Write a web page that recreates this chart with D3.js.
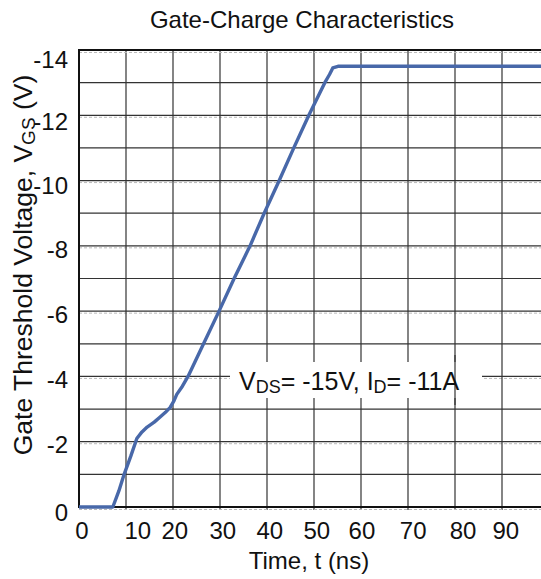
<!DOCTYPE html>
<html><head><meta charset="utf-8">
<script src="https://cdn.jsdelivr.net/npm/d3@7"></script>
<style>
html,body{margin:0;padding:0;background:#fff;}
svg{display:block;}
text{font-family:"Liberation Sans",Arial,sans-serif;fill:#111;}
</style></head>
<body><svg id="c" width="541" height="579"></svg>
<script>
// ---- data ----
const timeNs = [0, 2, 4, 6, 7.2, 8.5, 9.6, 11, 12.3, 13.4, 14.5, 16, 17.2, 18.4, 19.4, 20.2, 20.8, 22, 23.2, 26.5, 29.8, 33, 36.4, 39.4, 42.6, 45.7, 48.9, 50.6, 52.3, 53.3, 54.0, 55.1, 60, 70, 80, 90, 100];
const vgs    = [0, 0, 0, 0, 0, -0.5, -1, -1.55, -2.1, -2.3, -2.45, -2.6, -2.75, -2.9, -3.05, -3.25, -3.45, -3.7, -4, -5, -6, -7, -8, -9, -10, -11, -12, -12.5, -13, -13.25, -13.45, -13.5, -13.5, -13.5, -13.5, -13.5, -13.5];
const xTickLabels = ["0","10","20","30","40","50","60","70","80","90"];
const xTickLabelPos = [0.6, 12.5, 20.4, 30.6, 40.6, 50.6, 60.2, 71.1, 81.7, 90.8];
const yTickLabels = ["-14","-12","-10","-8","-6","-4","-2","0"];
const yTickLabelPos = [-13.7, -11.8, -9.85, -7.9, -5.9, -3.9, -1.9, 0.18];
const xGrid = [10,20,30,40,50,60,70,80,90];
const yGrid = [-1,-2,-3,-4,-5,-6,-7,-8,-9,-10,-11,-12,-13];

const svg = d3.select("#c");
const x = d3.scaleLinear().domain([0,100]).range([79,549]);
const y = d3.scaleLinear().domain([0,-14]).range([507,50]);
const blue = "#4868a9";
const FS = 24;

// horizontal grid
yGrid.forEach(v=>{
  svg.append("line").attr("x1",79).attr("x2",541).attr("y1",y(v)).attr("y2",y(v))
    .attr("stroke","#333").attr("stroke-width",1.2);
  if (v%2===0) svg.append("line").attr("x1",79).attr("x2",541).attr("y1",y(v)+2).attr("y2",y(v)+2)
    .attr("stroke","#bbb").attr("stroke-width",1).attr("stroke-dasharray","3,2");
});
// vertical grid
xGrid.forEach(t=>{
  svg.append("line").attr("x1",x(t)).attr("x2",x(t)).attr("y1",50).attr("y2",510)
    .attr("stroke","#333").attr("stroke-width",1.2);
});
// dashed companions for frame
svg.append("line").attr("x1",79).attr("x2",541).attr("y1",52.5).attr("y2",52.5)
  .attr("stroke","#bbb").attr("stroke-dasharray","3,2");
svg.append("line").attr("x1",79).attr("x2",541).attr("y1",y(0)+2.5).attr("y2",y(0)+2.5)
  .attr("stroke","#bbb").attr("stroke-dasharray","3,2");

// annotation box
svg.append("rect").attr("x",230).attr("y",362).attr("width",252).attr("height",36).attr("fill","#fff");
svg.append("line").attr("x1",x(80)).attr("x2",x(80)).attr("y1",355).attr("y2",405)
  .attr("stroke","#333").attr("stroke-width",1.2);
const at = svg.append("text").attr("x",239).attr("y",390).attr("font-size",25);
at.append("tspan").text("V");
at.append("tspan").attr("font-size",18).attr("dy",3).text("DS");
at.append("tspan").attr("dy",-3).text("= -15V, I");
at.append("tspan").attr("font-size",18).attr("dy",3).text("D");
at.append("tspan").attr("dy",-3).text("= -11A");

// frame
svg.append("line").attr("x1",79).attr("x2",541).attr("y1",50).attr("y2",50).attr("stroke","#111").attr("stroke-width",2);
svg.append("line").attr("x1",79).attr("x2",79).attr("y1",49).attr("y2",508).attr("stroke","#111").attr("stroke-width",2);
svg.append("line").attr("x1",79).attr("x2",541).attr("y1",y(0)).attr("y2",y(0)).attr("stroke","#111").attr("stroke-width",2);

// curve
const line = d3.line().x((d,i)=>x(timeNs[i])).y(d=>y(d));
svg.append("path").datum(vgs).attr("d",line).attr("fill","none")
  .attr("stroke",blue).attr("stroke-width",3.4).attr("stroke-linejoin","round");

// tick labels
svg.selectAll(".xl").data(xTickLabels).enter().append("text")
  .attr("x",(d,i)=>x(xTickLabelPos[i])).attr("y",539).attr("text-anchor","middle")
  .attr("font-size",FS).text(d=>d);
svg.selectAll(".yl").data(yTickLabels).enter().append("text")
  .attr("x",68).attr("y",(d,i)=>y(yTickLabelPos[i])).attr("dy","0.35em").attr("text-anchor","end")
  .attr("font-size",FS).text(d=>d);

// titles
svg.append("text").attr("x",302).attr("y",28).attr("text-anchor","middle").attr("font-size",FS)
  .text("Gate-Charge Characteristics");
svg.append("text").attr("x",309).attr("y",569).attr("text-anchor","middle").attr("font-size",FS)
  .text("Time, t (ns)");
const yt = svg.append("text").attr("transform","translate(32,265) rotate(-90)")
  .attr("text-anchor","middle").attr("font-size",26.5);
yt.append("tspan").text("Gate Threshold Voltage, V");
yt.append("tspan").attr("font-size",19).attr("dy",3).text("GS");
yt.append("tspan").attr("dy",-3).text(" (V)");
</script></body></html>
